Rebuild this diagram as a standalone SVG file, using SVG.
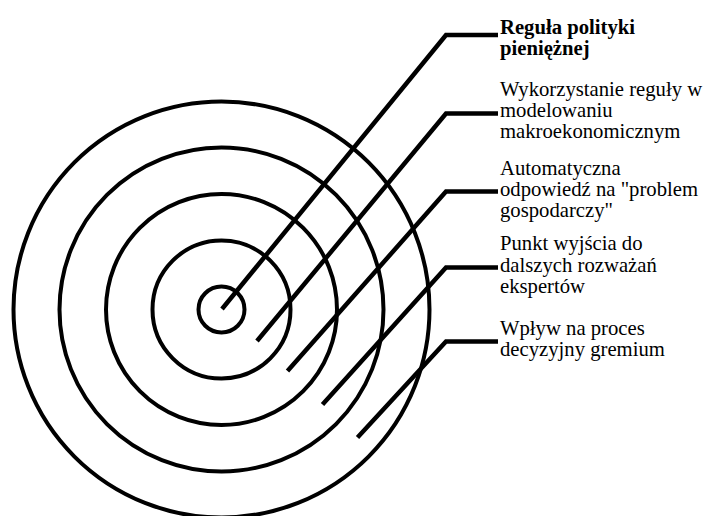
<svg xmlns="http://www.w3.org/2000/svg" width="712" height="516" viewBox="0 0 712 516">
<style>
.ring{fill:none;stroke:#000;stroke-width:4}
.conn{fill:none;stroke:#000;stroke-width:4.5;stroke-linejoin:miter}
text{font-family:'Liberation Serif','Times New Roman',serif;font-size:20.7px;fill:#000}
.b{font-weight:bold}
</style>
<rect width="712" height="516" fill="#fff"/>
<g id="rings">
<circle id="ring1" class="ring" cx="221.5" cy="309.5" r="23"/>
<circle id="ring2" class="ring" cx="221.5" cy="309.5" r="69"/>
<circle id="ring3" class="ring" cx="221.5" cy="309.5" r="115.5"/>
<circle id="ring4" class="ring" cx="221.5" cy="309.5" r="162"/>
<circle id="ring5" class="ring" cx="221.5" cy="309.5" r="208"/>
</g>
<g id="connectors">
<polyline class="conn" points="222,309 446,35 498,35"/>
<polyline class="conn" points="257,341 446,113.5 498,113.5"/>
<polyline class="conn" points="287.5,371 446,191.5 498,191.5"/>
<polyline class="conn" points="322.5,404.5 446,267.5 498,267.5"/>
<polyline class="conn" points="357.5,437.5 446,341.5 498,341.5"/>
</g>
<g id="label1">
<text class="b" x="500" y="34">Reguła polityki</text>
<text class="b" x="500" y="54.5">pieniężnej</text>
</g>
<g id="label2">
<text x="500" y="96">Wykorzystanie reguły w</text>
<text x="500" y="117">modelowaniu</text>
<text x="500" y="138">makroekonomicznym</text>
</g>
<g id="label3">
<text x="500" y="174.5">Automatyczna</text>
<text x="500" y="195.5">odpowiedź na "problem</text>
<text x="500" y="216.5">gospodarczy"</text>
</g>
<g id="label4">
<text x="500" y="250">Punkt wyjścia do</text>
<text x="500" y="271.5">dalszych rozważań</text>
<text x="500" y="293">ekspertów</text>
</g>
<g id="label5">
<text x="500" y="335">Wpływ na proces</text>
<text x="500" y="356">decyzyjny gremium</text>
</g>
</svg>
